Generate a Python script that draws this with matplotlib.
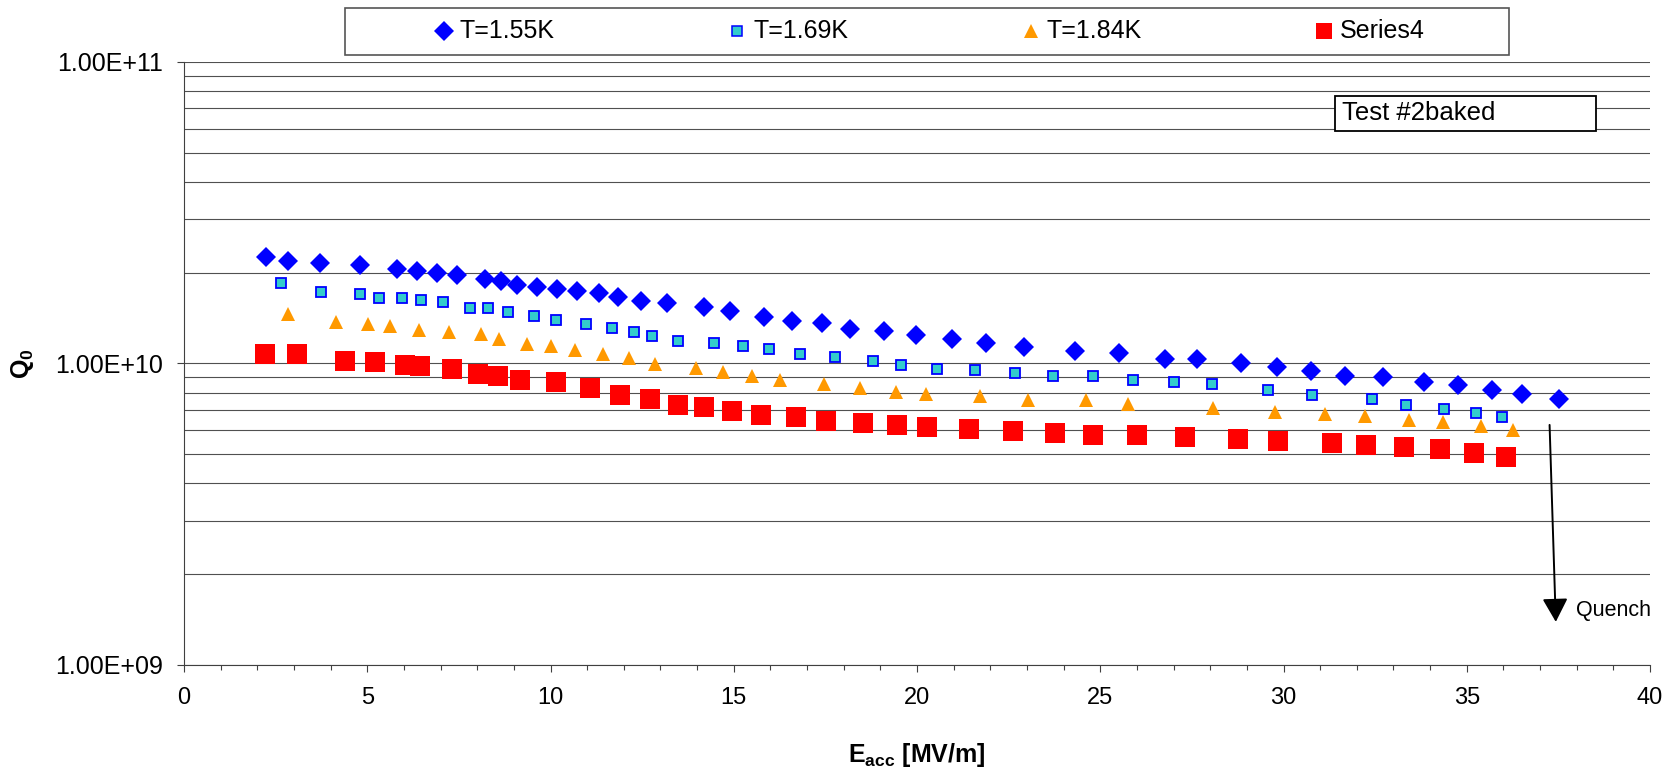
import matplotlib
matplotlib.use('Agg')
import matplotlib.pyplot as plt
from matplotlib.ticker import LogLocator, MultipleLocator, FuncFormatter, NullFormatter
from matplotlib.patches import Rectangle
from matplotlib.lines import Line2D

plt.rcParams['font.family'] = ['Liberation Sans', 'DejaVu Sans']
plt.rcParams['mathtext.fontset'] = 'custom'
plt.rcParams['mathtext.rm'] = 'Liberation Sans'
plt.rcParams['mathtext.bf'] = 'Liberation Sans:bold'

# Q0 vs Eacc (Q0 in units of 1e10)
e_155 = [2.24, 2.84, 3.72, 4.81, 5.81, 6.35, 6.89, 7.44, 8.21, 8.64, 9.08, 9.63,
         10.17, 10.72, 11.32, 11.84, 12.48, 13.19, 14.18, 14.89, 15.82, 16.58,
         17.40, 18.17, 19.10, 19.98, 20.96, 21.89, 22.93, 24.30, 25.50, 26.76,
         27.63, 28.84, 29.82, 30.75, 31.68, 32.72, 33.82, 34.75, 35.70, 36.52, 37.51]
q_155 = [2.26, 2.19, 2.15, 2.12, 2.06, 2.03, 2.00, 1.96, 1.91, 1.88, 1.82, 1.79,
         1.77, 1.74, 1.71, 1.66, 1.61, 1.58, 1.54, 1.49, 1.42, 1.38,
         1.36, 1.30, 1.28, 1.24, 1.20, 1.17, 1.13, 1.10, 1.08, 1.03,
         1.03, 1.00, 0.97, 0.94, 0.91, 0.898, 0.87, 0.845, 0.819, 0.794, 0.759]

e_169 = [2.65, 3.75, 4.79, 5.33, 5.94, 6.48, 7.08, 7.80, 8.29, 8.83, 9.55, 10.15,
         10.97, 11.68, 12.28, 12.77, 13.48, 14.47, 15.24, 15.95, 16.82, 17.75,
         18.79, 19.56, 20.54, 21.58, 22.67, 23.71, 24.81, 25.90, 27.00, 28.04,
         29.57, 30.77, 32.41, 33.34, 34.38, 35.26, 35.97]
q_169 = [1.84, 1.73, 1.70, 1.65, 1.65, 1.62, 1.60, 1.52, 1.52, 1.48, 1.43, 1.39,
         1.35, 1.31, 1.27, 1.23, 1.19, 1.17, 1.14, 1.12, 1.07, 1.05,
         1.02, 0.99, 0.96, 0.95, 0.93, 0.905, 0.905, 0.878, 0.865, 0.851,
         0.813, 0.788, 0.764, 0.730, 0.708, 0.687, 0.666]

e_184 = [2.84, 4.16, 5.03, 5.63, 6.40, 7.22, 8.10, 8.59, 9.35, 10.01, 10.67, 11.43,
         12.15, 12.86, 13.96, 14.72, 15.49, 16.25, 17.46, 18.44, 19.43, 20.25,
         21.73, 23.04, 24.62, 25.77, 28.07, 29.77, 31.13, 32.23, 33.43, 34.36,
         35.40, 36.26]
q_184 = [1.46, 1.37, 1.35, 1.33, 1.29, 1.27, 1.25, 1.20, 1.16, 1.14, 1.11, 1.07,
         1.04, 0.996, 0.966, 0.936, 0.908, 0.881, 0.854, 0.828, 0.803, 0.791,
         0.778, 0.755, 0.755, 0.732, 0.710, 0.688, 0.678, 0.668, 0.648, 0.638,
         0.618, 0.600]

e_s4 = [2.22, 3.09, 4.40, 5.22, 6.04, 6.43, 7.30, 8.01, 8.56, 9.16, 10.15, 11.08,
        11.90, 12.72, 13.48, 14.20, 14.96, 15.73, 16.71, 17.53, 18.52, 19.45,
        20.27, 21.42, 22.62, 23.77, 24.81, 26.01, 27.32, 28.75, 29.84, 31.32,
        32.25, 33.29, 34.27, 35.20, 36.08]
q_s4 = [1.07, 1.07, 1.02, 1.01, 0.99, 0.98, 0.96, 0.92, 0.905, 0.878, 0.865, 0.826,
        0.788, 0.764, 0.730, 0.719, 0.697, 0.676, 0.666, 0.646, 0.636, 0.626,
        0.617, 0.607, 0.598, 0.589, 0.580, 0.580, 0.571, 0.562, 0.554, 0.545,
        0.537, 0.528, 0.520, 0.505, 0.490]

labels = ['T=1.55K', 'T=1.69K', 'T=1.84K', 'Series4']
xs = [e_155, e_169, e_184, e_s4]
ys = [q_155, q_169, q_184, q_s4]
styles = [
    dict(marker='D', ms=10.5, mfc='#0000FF', mec='#0000FF', mew=0),
    dict(marker='s', ms=7.1, mfc='#33CCCC', mec='#0000FF', mew=1.3),
    dict(marker='^', ms=10, mfc='#FF9900', mec='#FF9900', mew=0),
    dict(marker='s', ms=13.8, mfc='#FF0000', mec='#FF0000', mew=0),
]
legend_ms = [10, 7, 9.5, 11]

W, H = 1669, 770
fig = plt.figure(figsize=(W / 100, H / 100), dpi=100)
ax = fig.add_axes([184 / W, 1 - 665 / H, 1466 / W, 603.3 / H])

for x, y, st in zip(xs, ys, styles):
    ax.plot(x, [v * 1e10 for v in y], linestyle='none', **st)

ax.set_yscale('log')
ax.set_xlim(0, 40)
ax.set_ylim(1e9, 1e11)

ax.xaxis.set_major_locator(MultipleLocator(5))
ax.xaxis.set_minor_locator(MultipleLocator(1))
ax.yaxis.set_major_locator(LogLocator(base=10))
ax.yaxis.set_minor_locator(LogLocator(base=10, subs=range(2, 10)))
ax.yaxis.set_major_formatter(FuncFormatter(lambda v, p: f'{v:.2E}'))
ax.yaxis.set_minor_formatter(NullFormatter())

ax.grid(True, axis='y', which='both', color='#505050', linewidth=0.8)
ax.set_axisbelow(True)

ax.tick_params(axis='x', which='major', direction='out', length=5, width=0.8,
               color='#404040', labelsize=17, pad=11)
ax.tick_params(axis='x', which='minor', direction='out', length=3.6, width=0.8,
               color='#404040')
ax.tick_params(axis='y', which='major', direction='out', length=5, width=0.8,
               color='#404040', labelsize=18, pad=10)
ax.tick_params(axis='y', which='minor', length=0)

for s in ['top', 'right']:
    ax.spines[s].set_visible(False)
for s in ['left', 'bottom']:
    ax.spines[s].set_color('#404040')
    ax.spines[s].set_linewidth(0.8)

ax.set_xlabel(r'$\mathbf{E}_{\mathbf{acc}}$ [MV/m]', fontsize=18, fontweight='bold')
ax.xaxis.set_label_coords(0.5, -0.149)
ax.xaxis.label.set_va('center')
ax.set_ylabel(r'$\mathbf{Q}_{\mathbf{0}}$', fontsize=18, fontweight='bold')
ax.yaxis.set_label_coords(-0.1105, 0.5)
ax.yaxis.label.set_va('center')

# quench arrow
ax.annotate('', xy=(37.43, 1.39e9), xytext=(37.26, 6.25e9),
            arrowprops=dict(arrowstyle='-|>,head_length=0.72,head_width=0.39',
                            mutation_scale=20, lw=1.4, color='black',
                            shrinkA=0, shrinkB=0), annotation_clip=False)
ax.text(37.97, 1.52e9, 'Quench', fontsize=15.5, ha='left', va='center', clip_on=False)

# legend box along the top
fig.add_artist(Rectangle((345 / W, 1 - 55 / H), 1164 / W, 46.7 / H,
                         transform=fig.transFigure, facecolor='white',
                         edgecolor='#555555', linewidth=1.2))
for i, (lab, st, lms) in enumerate(zip(labels, styles, legend_ms)):
    mx = 444 + i * 293.3
    st2 = dict(st)
    st2['ms'] = lms
    if st2['mew'] > 0:
        st2['mew'] = 1.1
    fig.add_artist(Line2D([mx / W], [1 - 31 / H], transform=fig.transFigure,
                          linestyle='none', **st2))
    fig.text((mx + 16) / W, 1 - 31.5 / H, lab, fontsize=18, ha='left', va='center')

# test label box
fig.add_artist(Rectangle((1335 / W, 1 - 131 / H), 261 / W, 35 / H,
                         transform=fig.transFigure, facecolor='white',
                         edgecolor='black', linewidth=1.3))
fig.text(1342 / W, 1 - 113 / H, 'Test #2baked', fontsize=18.5, ha='left', va='center')

fig.savefig('out.png', dpi=100)
